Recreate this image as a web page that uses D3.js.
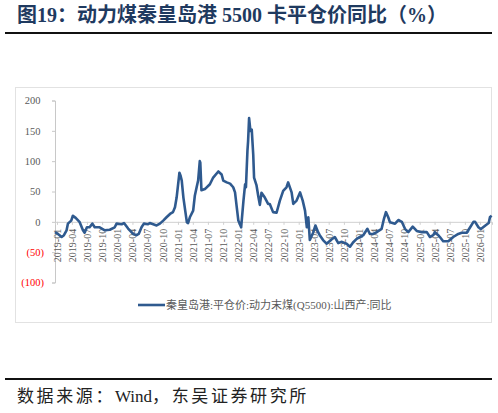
<!DOCTYPE html>
<html>
<head>
<meta charset="utf-8">
<script src="https://cdn.jsdelivr.net/npm/d3@7"></script>
<style>
  body { margin: 0; background: #fff; }
  svg { display: block; }
</style>
</head>
<body>
<div id="chart"></div>
<script>
// Chart data
var titleText = "图19：动力煤秦皇岛港 5500 卡平仓价同比（%）";
var seriesName = "秦皇岛港:平仓价:动力末煤(Q5500):山西产:同比";
var sourceParts = ["数据来源：", "Wind", "，东吴证券研究所"];

var dates = [
  "2018-12-20", "2019-01-07", "2019-01-29", "2019-02-12", "2019-02-28", "2019-03-08", "2019-03-28",
  "2019-04-07", "2019-04-24", "2019-05-17", "2019-06-07", "2019-06-17", "2019-07-01", "2019-07-17",
  "2019-08-03", "2019-08-17", "2019-09-16", "2019-10-17", "2019-11-16", "2019-12-16", "2019-12-27",
  "2020-01-27", "2020-02-10", "2020-03-06", "2020-04-05", "2020-04-26", "2020-05-09", "2020-05-26",
  "2020-06-09", "2020-07-04", "2020-07-15", "2020-08-25", "2020-09-14", "2020-10-04", "2020-10-24",
  "2020-11-14", "2020-12-02", "2020-12-14", "2020-12-24", "2021-01-10", "2021-01-17", "2021-01-24",
  "2021-02-03", "2021-02-14", "2021-02-24", "2021-03-03", "2021-03-14", "2021-04-03", "2021-04-13",
  "2021-04-24", "2021-05-03", "2021-05-13", "2021-05-16", "2021-05-23", "2021-06-13", "2021-07-13",
  "2021-08-02", "2021-09-02", "2021-09-22", "2021-10-02", "2021-10-23", "2021-11-12", "2021-12-01",
  "2021-12-12", "2021-12-22", "2022-01-01", "2022-01-18", "2022-02-01", "2022-02-11", "2022-02-16",
  "2022-02-25", "2022-03-01", "2022-03-07", "2022-03-15", "2022-03-23", "2022-04-01", "2022-04-06",
  "2022-04-21", "2022-05-01", "2022-05-11", "2022-05-21", "2022-06-10", "2022-06-30", "2022-07-10",
  "2022-07-30", "2022-08-20", "2022-09-09", "2022-09-29", "2022-10-19", "2022-10-29", "2022-11-19",
  "2022-11-29", "2022-12-19", "2023-01-09", "2023-01-25", "2023-02-08", "2023-02-19", "2023-02-28",
  "2023-03-09", "2023-03-29", "2023-04-12", "2023-04-28", "2023-05-08", "2023-05-28", "2023-06-18",
  "2023-07-18", "2023-08-07", "2023-08-28", "2023-09-19", "2023-10-17", "2023-11-07", "2023-11-25",
  "2023-12-17", "2024-01-06", "2024-01-26", "2024-02-20", "2024-03-06", "2024-03-26", "2024-04-16",
  "2024-05-16", "2024-05-30", "2024-06-11", "2024-06-25", "2024-07-05", "2024-08-05", "2024-08-25",
  "2024-09-15", "2024-10-04", "2024-10-24", "2024-11-20", "2024-12-14", "2025-01-14", "2025-02-13",
  "2025-03-04", "2025-03-24", "2025-04-03", "2025-04-23", "2025-05-03", "2025-05-23", "2025-06-23",
  "2025-07-23", "2025-08-22", "2025-09-12", "2025-10-12", "2025-11-02", "2025-11-22", "2025-12-02",
  "2025-12-22", "2026-01-06", "2026-02-02", "2026-02-22", "2026-03-02", "2026-03-12"
];

var values = [
  -17, -20, -25, -22, -14, -3, 2,
  10, 6.5, 0, -14, -18, -9, -9,
  -3, -9, -9, -14, -13, -9, -3,
  -4, -2, -11, -20, -22, -20, -9,
  -3, -4, -2, -6, -3, 2, 7.5,
  13, 16, 24, 40, 81, 76, 68,
  40, 18.5, -1, -2, 7.5, 18.5, 43,
  57, 68, 100, 98, 52, 54, 62,
  73, 83, 78, 68, 65, 63, 57,
  48.5, 25, 2, -9, 35, 62, 57,
  117, 133, 171, 150, 152, 111, 73,
  60, 43, 28, 48, 40, 29.5, 29.5,
  16, 15, 35, 51, 57, 65, 48.5,
  29.5, 35, 48.5, 35, 18.5, -9, 7.5,
  -30, -18, -6, -17, -22, -30, -36,
  -29, -25, -35, -33, -36, -41, -34,
  -28, -25, -22, -11.5, -20, -20, -17,
  -11.5, 5, 16, 7.5, -0.5, -3, 3,
  0, -11.5, -17, -8, -15, -17, -17,
  -25, -22, -17, -22, -25, -32, -32,
  -25, -20, -18, -18, -9, 0, 0,
  -9, -12, -6, -2, 8, 10
];

var yTicks = [-100, -50, 0, 50, 100, 150, 200];

var xTickLabels = [
  "2019-01", "2019-04", "2019-07", "2019-10", "2020-01", "2020-04", "2020-07", "2020-10",
  "2021-01", "2021-04", "2021-07", "2021-10", "2022-01", "2022-04", "2022-07", "2022-10",
  "2023-01", "2023-04", "2023-07", "2023-10", "2024-01", "2024-04", "2024-07", "2024-10",
  "2025-01", "2025-04", "2025-07", "2025-10", "2026-01"
];

// Page layout
var svgWidth = 498;
var svgHeight = 413;
var lineColor = "#2f5a8f";
var parseDate = d3.timeParse("%Y-%m-%d");
var parseMonth = d3.timeParse("%Y-%m");

var data = dates.map(function(d, i) {
  return { date: parseDate(d), value: values[i] };
});

var svg = d3.select("#chart")
  .append("svg")
  .attr("width", svgWidth)
  .attr("height", svgHeight);

// Title and rule
svg.append("text")
  .attr("x", 17)
  .attr("y", 22)
  .attr("fill", "#1f3a60")
  .attr("font-family", "'Liberation Serif', 'Noto Sans CJK SC', serif")
  .attr("font-weight", "bold")
  .attr("font-size", "20px")
  .text(titleText);

svg.append("line")
  .attr("x1", 5).attr("x2", 492)
  .attr("y1", 33).attr("y2", 33)
  .attr("stroke", "#111").attr("stroke-width", 2);

// Chart frame
svg.append("rect")
  .attr("x", 15.5).attr("y", 87.5)
  .attr("width", 476).attr("height", 235)
  .attr("fill", "none")
  .attr("stroke", "#e2e2e2");

// Scales
var xScale = d3.scaleTime()
  .domain([parseDate("2018-12-20"), parseDate("2026-03-14")])
  .range([55, 492]);

var yScale = d3.scaleLinear()
  .domain([-100, 200])
  .range([282.5, 100.5]);

// Y axis
var leftAxis = d3.axisLeft(yScale)
  .tickValues(yTicks)
  .tickSize(3)
  .tickPadding(8)
  .tickFormat(function(d) { return d < 0 ? "(" + Math.abs(d) + ")" : d; });

var yAxisGroup = svg.append("g")
  .attr("transform", "translate(55, 0)")
  .call(leftAxis);

yAxisGroup.select(".domain").attr("stroke", "#c8c8c8");
yAxisGroup.selectAll(".tick line").attr("stroke", "#c8c8c8");
yAxisGroup.selectAll(".tick text")
  .attr("font-family", "'Liberation Serif', serif")
  .attr("font-size", "10.5px")
  .attr("fill", function(d) { return d < 0 ? "#ff0000" : "#595959"; })
  .attr("dx", function(d) { return d < 0 ? 0 : "-0.33em"; });

// Zero line with quarterly date labels
var bottomAxis = d3.axisBottom(xScale)
  .tickValues(xTickLabels.map(parseMonth))
  .tickSize(3)
  .tickFormat(d3.timeFormat("%Y-%m"));

var xAxisGroup = svg.append("g")
  .attr("transform", "translate(0, " + yScale(0) + ")")
  .call(bottomAxis);

xAxisGroup.select(".domain").attr("stroke", "#d0d0d0");
xAxisGroup.selectAll(".tick line").attr("stroke", "#d0d0d0");
xAxisGroup.selectAll(".tick text")
  .attr("font-family", "'Liberation Serif', serif")
  .attr("font-size", "10px")
  .attr("fill", "#595959")
  .attr("text-anchor", "end")
  .attr("transform", "rotate(-90)")
  .attr("x", -7)
  .attr("y", 0)
  .attr("dy", "0.35em");

// The series line
var line = d3.line()
  .x(function(d) { return xScale(d.date); })
  .y(function(d) { return yScale(d.value); });

svg.append("path")
  .datum(data)
  .attr("d", line)
  .attr("fill", "none")
  .attr("stroke", lineColor)
  .attr("stroke-width", 2.6)
  .attr("stroke-linejoin", "round");

// Legend
svg.append("line")
  .attr("x1", 138).attr("x2", 165)
  .attr("y1", 305).attr("y2", 305)
  .attr("stroke", lineColor).attr("stroke-width", 2.6);

svg.append("text")
  .attr("x", 166)
  .attr("y", 309)
  .attr("fill", "#595959")
  .attr("font-family", "'Liberation Serif', 'Noto Sans CJK SC', sans-serif")
  .attr("font-size", "11px")
  .text(seriesName);

// Source footer
svg.append("line")
  .attr("x1", 5).attr("x2", 492)
  .attr("y1", 379).attr("y2", 379)
  .attr("stroke", "#111").attr("stroke-width", 1.8);

var source = svg.append("text")
  .attr("x", 17)
  .attr("y", 402)
  .attr("fill", "#222")
  .attr("font-family", "'Liberation Serif', 'Noto Sans CJK SC', serif")
  .attr("font-size", "17px");

source.selectAll("tspan")
  .data(sourceParts)
  .enter()
  .append("tspan")
  .attr("letter-spacing", function(d, i) { return i === 1 ? "0px" : "2.6px"; })
  .text(function(d) { return d; });
</script>
</body>
</html>
